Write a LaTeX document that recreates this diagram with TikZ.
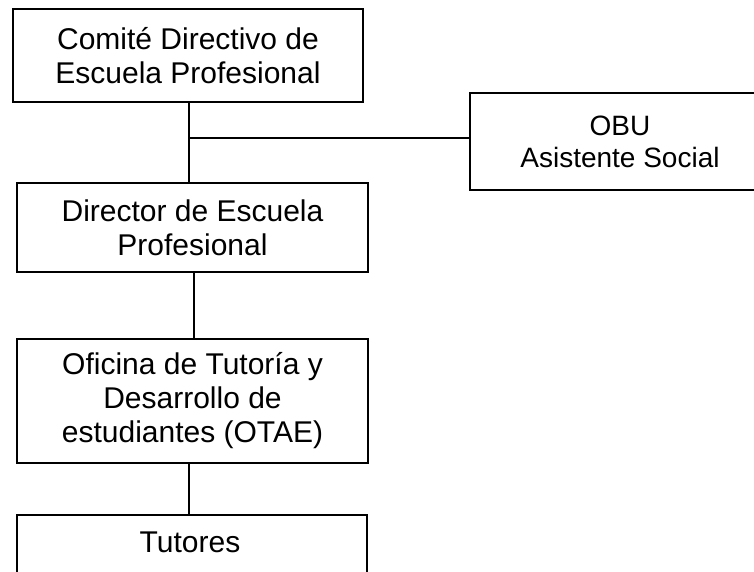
\documentclass[tikz,border=0pt]{standalone}
\usepackage{fontspec}
\setmainfont{Liberation Sans}
\usetikzlibrary{calc}
\begin{document}
\begin{tikzpicture}[x=1pt,y=-1pt,
  box/.style={draw, line width=2pt, rectangle, inner sep=0pt, align=center,
              font=\fontsize{30}{34}\selectfont},
  sidebox/.style={box, font=\fontsize{28}{32}\selectfont},
  conn/.style={line width=2pt}]
\useasboundingbox (0,0) rectangle (754,571);
\clip (0,0) rectangle (754,571);
\node[box, minimum width=350pt, minimum height=93pt] (b1) at (188,55.5)
  {Comité Directivo de\\Escuela Profesional};
\node[box, minimum width=351pt, minimum height=89pt] (b2) at (192.5,227.5)
  {Director de Escuela\\Profesional};
\node[box, minimum width=351pt, minimum height=124pt] (b3) at (192.5,401)
  {Oficina de Tutoría y\\Desarrollo de\\estudiantes (OTAE)};
\node[box, minimum width=350pt, minimum height=90pt] (b4) at (192,560) {};
\node[anchor=base, inner sep=0pt, font=\fontsize{30}{34}\selectfont] (t4) at (190,552) {Tutores};
\node[sidebox, minimum width=300pt, minimum height=97pt] (obu) at (620,141.5)
  {OBU\\Asistente Social};
% connectors
\coordinate (s1) at ([xshift=1pt]b1.south);
\coordinate (j) at ($(s1)+(0,35)$);
\draw[conn] (s1) -- (s1 |- b2.north);
\draw[conn] (j) -- (j -| obu.west);
\coordinate (s2) at ([xshift=1.5pt]b2.south);
\draw[conn] (s2) -- (s2 |- b3.north);
\coordinate (s3) at ([xshift=-3.5pt]b3.south);
\draw[conn] (s3) -- (s3 |- b4.north);
\end{tikzpicture}
\end{document}
